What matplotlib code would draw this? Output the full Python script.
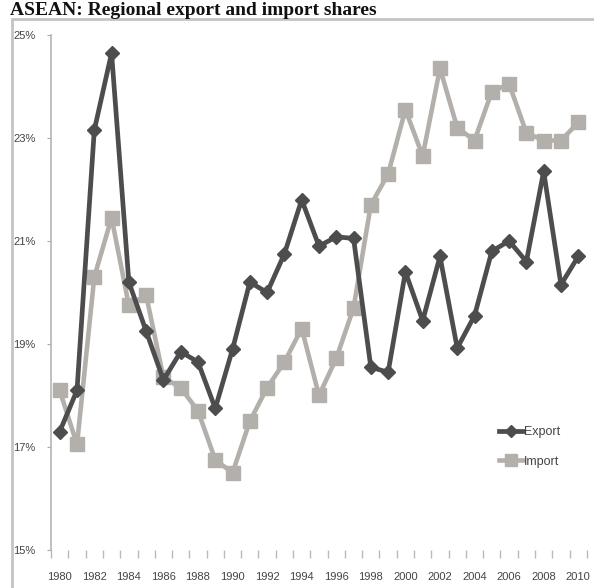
import matplotlib.pyplot as plt
import matplotlib
from matplotlib.patches import Rectangle
from matplotlib.ticker import FixedLocator, FuncFormatter

matplotlib.rcParams['font.family'] = ['Liberation Sans', 'DejaVu Sans']

# data (percent shares)
years = list(range(1980, 2011))
export = [17.3, 18.1, 23.15, 24.65, 20.2, 19.25, 18.3, 18.85, 18.65, 17.75, 18.9,
          20.2, 20.0, 20.75, 21.8, 20.9, 21.08, 21.05, 18.55, 18.45, 20.4, 19.45,
          20.7, 18.92, 19.55, 20.8, 21.0, 20.6, 22.35, 20.15, 20.7]
imports = [18.1, 17.05, 20.3, 21.45, 19.75, 19.95, 18.35, 18.15, 17.7, 16.75, 16.5,
           17.5, 18.15, 18.65, 19.3, 18.0, 18.72, 19.7, 21.7, 22.3, 23.55, 22.65,
           24.35, 23.2, 22.95, 23.9, 24.05, 23.1, 22.95, 22.95, 23.3]
y_ticks = [15, 17, 19, 21, 23, 25]
x_labels = list(range(1980, 2011, 2))

fig = plt.figure(figsize=(5.94, 5.88), dpi=100)
ax = fig.add_axes([0.086, 0.0646, 0.902, 0.876])

ax.plot(years, imports, color='#b3afab', linewidth=3.3, marker='s', markersize=10,
        label='Import', zorder=2)
ax.plot(years, export, color='#4d4d4d', linewidth=3.4, marker='D', markersize=7.5,
        label='Export', zorder=3)

ax.set_xlim(1979.5, 2010.5)
ax.set_ylim(15, 25)
ax.set_yticks(y_ticks)
ax.yaxis.set_major_formatter(FuncFormatter(lambda v, p: f'{int(v)}%'))
ax.set_xticks(x_labels)
ax.xaxis.set_minor_locator(FixedLocator([y + 0.5 for y in range(1979, 2011)]))
ax.tick_params(axis='x', which='major', length=0, pad=16, labelsize=8, labelcolor='#444444')
ax.tick_params(axis='x', which='minor', length=6, color='#bbbbbb', width=1)
ax.tick_params(axis='y', length=3, color='#aaaaaa', pad=8, labelsize=8, labelcolor='#444444')

for s in ['top', 'right', 'bottom']:
    ax.spines[s].set_visible(False)
ax.spines['left'].set_color('#b5b5b5')
ax.spines['left'].set_linewidth(1.2)

handles, labels = ax.get_legend_handles_labels()
ax.legend(handles[::-1], labels[::-1], loc='center left', bbox_to_anchor=(0.815, 0.2),
          frameon=False, fontsize=9, handlelength=1.9, handletextpad=0.1,
          labelspacing=1.4, labelcolor='#444444', markerscale=0.8)

# outer frame around the chart
fig.patches.append(Rectangle((12 / 594, -0.05), 1.1, 1 - 19 / 588 + 0.05,
                             transform=fig.transFigure, fill=False,
                             edgecolor='#c4c4c4', linewidth=2))

fig.text(10 / 594, 1 - 15 / 588, 'ASEAN: Regional export and import shares',
         fontsize=14, fontweight='bold', family='Liberation Serif', va='baseline',
         ha='left', color='#111111')

fig.savefig('out.png', dpi=100, facecolor='white')
plt.close()
